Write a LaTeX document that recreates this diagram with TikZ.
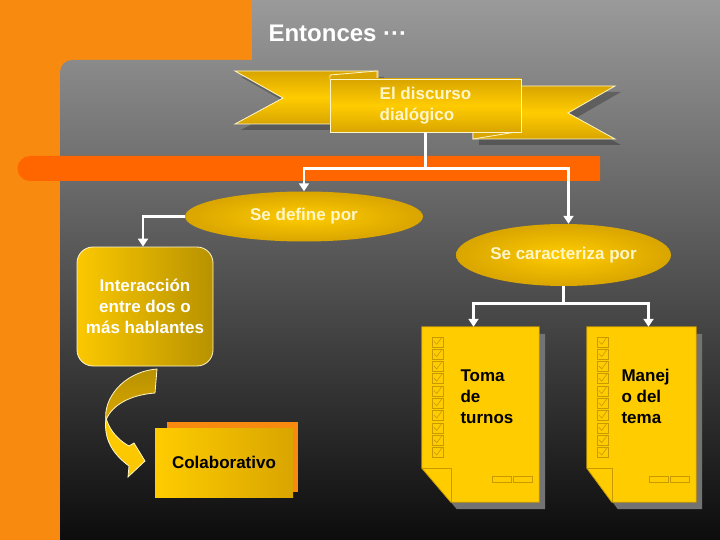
\documentclass[tikz,border=0pt]{standalone}
\usepackage{fontspec}
\setmainfont{Liberation Sans}
\usetikzlibrary{arrows.meta,shapes.geometric}
\definecolor{orA}{HTML}{F98A10}
\definecolor{orBar}{HTML}{FF6600}
\definecolor{gold}{HTML}{FFCC00}
\definecolor{goldD}{HTML}{D9A500}
\definecolor{goldDD}{HTML}{B89200}
\definecolor{goldLine}{HTML}{C99A00}
\definecolor{cream}{HTML}{FFF6C8}
\definecolor{grayTop}{HTML}{9A9A9A}
\definecolor{grayBot}{HTML}{0C0C0C}
\tikzset{
  txt/.style={font=\bfseries\fontsize{17}{21}\selectfont},
  wtxt/.style={txt,text=cream,align=center},
  btxt/.style={txt,text=black,align=left},
  line/.style={draw=white,line width=2.6pt},
  conn/.style={line,-{Triangle[width=10pt,length=8pt]}},
  ell/.style={shape=ellipse,inner color=gold,outer color=goldD,wtxt,inner sep=0pt},
  ribbon/.style={draw=cream,line width=0.8pt,top color=goldD,bottom color=goldD,middle color=gold},
  docshape/.style={fill=gold,draw=goldLine,line width=0.8pt},
  docshadow/.style={fill=gray!90!black},
  chk/.style={draw=goldLine,line width=0.6pt}
}
\begin{document}
\begin{tikzpicture}[x=1pt,y=-1pt]
\useasboundingbox (0,0) rectangle (720,540);
% background
\fill[orA] (0,0) rectangle (720,540);
\shade[top color=grayTop,bottom color=grayBot]
  (252,0) -- (720,0) -- (720,540) -- (60,540) -- (60,72)
  arc[start angle=180,end angle=90,x radius=12,y radius=-12] -- (252,60) -- cycle;
\fill[orBar] (600,156) -- (30,156) arc[start angle=90,end angle=270,x radius=12.5,y radius=-12.5] -- (600,181) -- cycle;
% title
\node[anchor=west,text=white,font=\bfseries\fontsize{24}{28}\selectfont] (title) at (265,33) {Entonces ···};
% ribbon
\fill[black,opacity=0.25] (241,77) -- (384,77) -- (384,130) -- (241,130) -- (289,104) -- cycle;
\fill[black,opacity=0.25] (479,92) -- (621,92) -- (574,119) -- (621,145) -- (479,145) -- cycle;
\path[ribbon] (235,71) -- (378,71) -- (378,124) -- (235,124) -- (283,98) -- cycle;
\path[ribbon] (473,86) -- (615,86) -- (568,113) -- (615,139) -- (473,139) -- cycle;
\path[draw=cream,line width=0.8pt,fill=goldD] (330,75) -- (377,71) -- (377,79) -- (330,79) -- cycle;
\path[draw=cream,line width=0.8pt,fill=goldD] (473,132) -- (516,132) -- (473,139) -- cycle;
\node[ribbon,minimum width=191pt,minimum height=53pt,inner sep=0pt,wtxt,align=left] (disc) at (425.5,105.5) {El discurso\\dialógico};
% ellipses
\node[ell,minimum width=238pt,minimum height=50pt] (def) at (304,216.5) {Se define por};
\node[ell,minimum width=215pt,minimum height=62pt] (car) at (563.5,255) {Se caracteriza por};
% interaccion box
\node[draw=cream,line width=0.8pt,rounded corners=16pt,minimum width=136pt,minimum height=119pt,
      shading angle=135,left color=gold!90!goldD,right color=goldDD,wtxt,text=white] (inter) at (145,306.5)
      {Interacción\\entre dos o\\más hablantes};
% colaborativo
\fill[orA] (167,422) rectangle (298,492);
\node[minimum width=138pt,minimum height=69pt,inner sep=0pt,shading angle=45,left color=gold,right color=goldD,btxt] (colab) at (224,462.5) {Colaborativo};
% curved twisted arrow
\path[draw=cream,line width=0.8pt,top color=goldDD,bottom color=goldD]
  (157,369) -- (155,393) .. controls (130,395) and (112,405) .. (106,420)
  .. controls (103,400) and (122,372) .. (157,369) -- cycle;
\path[draw=cream,line width=0.8pt,top color=gold,bottom color=gold!85!goldD]
  (106,418) .. controls (110,432) and (120,441) .. (129,446) -- (134,443) -- (145,461) -- (128,477) -- (129,466)
  .. controls (114,455) and (103,440) .. (106,418) -- cycle;
% documents
\node[minimum width=117pt,minimum height=175pt,inner sep=0pt] (toma) at (480.5,414.5) {};
\node[minimum width=109pt,minimum height=175pt,inner sep=0pt] (manejo) at (641.5,414.5) {};
\foreach \d/\f in {toma/29,manejo/25}{
  \fill[docshadow] ([shift={(6,7)}]\d.north west) -- ([shift={(6,7)}]\d.north east) -- ([shift={(6,7)}]\d.south east)
     -- ([shift={(6+\f,7)}]\d.south west) -- ([shift={(6,-27)}]\d.south west) -- cycle;
  \path[docshape] (\d.north west) -- (\d.north east) -- (\d.south east) -- ([xshift=\f]\d.south west)
     -- ([shift={(0,-34)}]\d.south west) -- cycle;
  \draw[chk] ([shift={(0,-34)}]\d.south west) -| ([xshift=\f]\d.south west);
  \foreach \i in {0,...,9}{
    \draw[chk] ([shift={(10,10+12.3*\i)}]\d.north west) rectangle ++(11,10);
    \draw[chk] ([shift={(12,14.5+12.3*\i)}]\d.north west) -- ++(3,3) -- ++(5,-7);
  }
  \draw[chk] ([shift={(-47,-20)}]\d.south east) rectangle ++(19,-6);
  \draw[chk] ([shift={(-26,-20)}]\d.south east) rectangle ++(19,-6);
}
\node[btxt,anchor=north west] (tomat) at (457,366) {Toma\\de\\turnos};
\node[btxt,anchor=north west] (manejot) at (618,366) {Manej\\o del\\tema};
% connectors
\draw[line] (disc.south) -- ++(0,36) coordinate (j1);
\draw[conn] (j1) -| (def.north);
\draw[conn] (j1) -| ([xshift=5]car.north);
\draw[conn] (def.west) -| ([xshift=-2]inter.north);
\draw[line] (car.south) -- ++(0,17) coordinate (j2);
\draw[conn] (j2) -| ([xshift=-7]toma.north);
\draw[conn] (j2) -| ([xshift=7]manejo.north);
\end{tikzpicture}
\end{document}
